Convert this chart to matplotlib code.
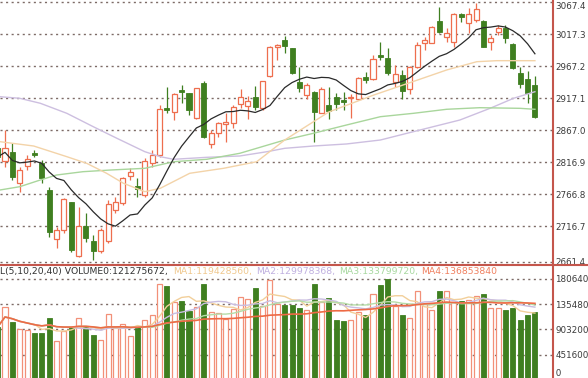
import numpy as np
import pandas as pd
import matplotlib
matplotlib.use('Agg')
import matplotlib.pyplot as plt
from matplotlib.lines import Line2D

# candle index, -1 is the half-cut candle on the left edge
days = np.arange(-1, 73)

opens = [2839.3, 2818.9, 2833.5, 2784.0, 2811.6, 2831.9, 2815.3, 2773.5, 2696.3, 2710.9,
         2754.3, 2670.2, 2717.2, 2694.2, 2678.5, 2694.2, 2742.2, 2752.7, 2795.5, 2779.8,
         2765.7, 2815.3, 2828.3, 2901.4, 2896.1, 2930.1, 2924.9, 2885.8, 2941.5, 2845.6,
         2862.3, 2876.9, 2878.9, 2908.2, 2905.0, 2918.7, 2901.4, 2952.0, 2997.9, 3008.4,
         2995.4, 2943.1, 2922.3, 2927.4, 2894.6, 2906.6, 2919.6, 2914.4, 2917.1, 2915.5,
         2950.0, 2946.8, 2984.9, 2979.7, 2943.1, 2953.6, 2931.2, 2966.6, 3003.2, 3004.1,
         3038.1, 3012.6, 3005.7, 3048.6, 3035.5, 3039.7, 3038.1, 3005.7, 3020.4, 3027.6,
         3002.1, 2957.2, 2946.8, 2937.9]
highs = [2844.0, 2867.5, 2846.6, 2810.0, 2828.3, 2836.2, 2820.5, 2778.7, 2716.1, 2760.5,
         2755.2, 2747.4, 2737.1, 2703.1, 2713.6, 2757.9, 2763.0, 2794.4, 2807.5, 2791.9,
         2823.6, 2836.2, 2906.6, 2934.3, 2924.9, 2937.9, 2925.9, 2933.7, 2944.2, 2867.5,
         2880.5, 2893.6, 2906.6, 2931.2, 2920.7, 2936.4, 2944.2, 2999.0, 3002.1, 3014.6,
         2996.3, 2966.6, 2940.6, 2929.0, 2934.3, 2935.3, 2924.9, 2927.4, 2923.4, 2950.0,
         2958.7, 2984.9, 3005.7, 2995.4, 2969.2, 2961.4, 2967.7, 3005.7, 3013.5, 3030.3,
         3059.6, 3026.7, 3051.1, 3051.1, 3058.0, 3066.8, 3039.7, 3016.2, 3031.9, 3031.9,
         3003.2, 2966.6, 2960.3, 2952.0]
lows = [2820.5, 2810.0, 2789.2, 2770.9, 2804.8, 2825.7, 2784.0, 2700.4, 2682.3, 2705.7,
        2676.9, 2669.1, 2692.6, 2663.9, 2674.4, 2690.1, 2737.1, 2750.0, 2789.2, 2763.0,
        2763.0, 2810.0, 2825.7, 2893.6, 2883.1, 2909.3, 2891.0, 2884.7, 2854.5, 2838.8,
        2857.0, 2849.2, 2870.1, 2901.4, 2884.2, 2898.8, 2898.8, 2950.9, 2977.1, 2987.6,
        2955.1, 2927.4, 2915.5, 2849.2, 2893.6, 2884.2, 2898.8, 2898.8, 2885.8, 2914.4,
        2941.5, 2945.8, 2977.1, 2953.6, 2935.3, 2915.5, 2923.8, 2964.1, 2992.7, 3003.2,
        3018.9, 3005.7, 2997.9, 3037.0, 3018.9, 3037.0, 2996.9, 2992.7, 3016.2, 3003.2,
        2963.0, 2932.8, 2909.3, 2885.8]
closes = [2825.2, 2839.8, 2794.4, 2804.8, 2821.6, 2828.3, 2791.9, 2708.3, 2710.9, 2759.0,
          2679.6, 2717.2, 2697.9, 2678.5, 2710.9, 2751.6, 2755.2, 2791.9, 2802.2, 2775.6,
          2819.4, 2828.3, 2899.9, 2898.8, 2923.4, 2927.4, 2898.8, 2932.8, 2857.0, 2863.2,
          2877.9, 2880.5, 2904.0, 2918.7, 2913.3, 2903.0, 2944.2, 2996.9, 3000.5, 2999.0,
          2957.2, 2932.8, 2937.9, 2896.1, 2931.2, 2897.7, 2908.2, 2911.8, 2919.6, 2948.4,
          2945.8, 2978.2, 2982.2, 2957.2, 2955.1, 2929.0, 2966.6, 3000.5, 3008.4, 3029.2,
          3021.4, 3019.8, 3049.1, 3043.9, 3049.1, 3056.4, 2997.9, 3011.0, 3026.7, 3011.0,
          2964.1, 2939.5, 2924.9, 2887.4]
# volume in millions
volumes = [94.5, 130.2, 102.9, 90.9, 89.7, 83.3, 84.3, 110.0, 70.1, 87.9,
           94.0, 110.5, 96.3, 80.2, 70.8, 118.2, 94.5, 99.3, 78.4, 95.0,
           106.4, 116.4, 171.7, 167.6, 139.1, 141.4, 123.9, 129.3, 171.7, 121.2,
           119.5, 108.8, 126.6, 148.0, 143.9, 164.0, 131.4, 178.8, 136.0, 134.3,
           134.3, 128.4, 125.3, 171.7, 139.6, 146.2, 107.5, 104.7, 107.0, 121.2,
           116.4, 153.3, 168.8, 180.1, 132.5, 116.4, 110.5, 158.1, 135.5, 124.3,
           159.2, 158.1, 139.1, 140.3, 143.2, 149.2, 153.3, 128.4, 128.4, 124.3,
           128.4, 106.4, 116.4, 121.3]

# slow price averages (candle index, price)
ma30_x = [-0.7, 3.9, 8.4, 11.1, 13.8, 16.1, 19.0, 21.1, 25.1, 29.7, 34.2, 38.0, 44.0, 50.0, 55.4, 60.0, 64.1, 66.8, 72.0]
ma30_y = [2849.2, 2842.4, 2825.7, 2815.3, 2799.7, 2784.0, 2770.9, 2776.2, 2799.7, 2807.5, 2817.8, 2851.8,
          2895.7, 2921.8, 2943.1, 2961.4, 2974.4, 2976.0, 2976.0]
ma60_x = [-0.7, 2.0, 4.8, 7.0, 10.6, 14.3, 19.0, 22.9, 27.4, 31.9, 38.0, 41.9, 46.4, 51.0, 55.5, 60.0, 64.5, 70.0, 72.0]
ma60_y = [2773.5, 2778.7, 2789.2, 2797.0, 2802.2, 2804.8, 2807.5, 2817.8, 2821.6, 2831.0, 2851.8, 2862.3,
          2875.3, 2888.3, 2893.6, 2899.9, 2902.4, 2901.4, 2899.9]
ma120_x = [-0.7, 2.0, 4.8, 8.4, 12.0, 15.2, 19.0, 21.1, 22.9, 27.4, 31.9, 35.6, 38.0, 41.9, 46.4, 51.0,
           56.4, 61.8, 65.9, 69.1, 72.0]
ma120_y = [2919.6, 2917.1, 2909.3, 2893.6, 2872.6, 2854.5, 2833.5, 2825.7, 2821.6, 2824.7, 2826.8, 2833.5,
           2838.8, 2842.4, 2845.6, 2851.8, 2867.5, 2883.1, 2901.4, 2917.1, 2927.4]

price_ticks = [3067.4, 3017.3, 2967.2, 2917.1, 2867.0, 2816.9, 2766.8, 2716.7, 2661.4]
price_labels = ['3067.4', '3017.3', '2967.2', '2917.1', '2867.0', '2816.9', '2766.8', '2716.7', '2661.4']
vol_ticks = [180.64, 135.48, 90.32, 45.16]
vol_labels = ['180640', '135480', '903200', '451600']

vol_legend = ['L(5,10,20,40) VOLUME0:121275672,', 'MA1:119428560,', 'MA2:129978368,',
              'MA3:133799720,', 'MA4:136853840']

UP = '#ee6e4e'
UP_VOL = '#f29078'
DOWN = '#3f7f20'
AXIS_RED = '#c4564c'
GRID = '#7d6b66'

W, H = 588, 378
fig = plt.figure(figsize=(W / 100, H / 100), dpi=100)
fig.patch.set_facecolor('white')

split = 265.3      # pixel row of the panel separator
right = 553.3      # pixel column of the axis line
ax = fig.add_axes([0, 1 - split / H, right / W, split / H])
axv = fig.add_axes([0, 0, right / W, 1 - split / H])

o = np.array(opens); c = np.array(closes)
hi = np.array(highs); lo = np.array(lows)
v = np.array(volumes)
up = c >= o
bw = 0.68

# price panel
ax.vlines(days[up], lo[up], hi[up], color=UP, lw=0.9, zorder=2)
ax.vlines(days[~up], lo[~up], hi[~up], color=DOWN, lw=0.9, zorder=2)
body = np.maximum(np.abs(c - o), 1.3)
ax.bar(days[up], body[up], bottom=np.minimum(o, c)[up], width=bw,
       facecolor='white', edgecolor=UP, linewidth=0.9, zorder=3)
ax.bar(days[~up], body[~up], bottom=np.minimum(o, c)[~up], width=bw,
       facecolor=DOWN, edgecolor=DOWN, linewidth=0.6, zorder=3)

ma10 = pd.Series(closes).rolling(10, min_periods=1).mean()
ax.plot(ma120_x, ma120_y, color='#cdbfe0', lw=1.0, zorder=4)
ax.plot(ma60_x, ma60_y, color='#a9d69c', lw=1.0, zorder=4)
ax.plot(ma30_x, ma30_y, color='#f3d3a8', lw=1.0, zorder=4)
ax.plot(days, ma10, color='#2a2a2a', lw=0.9, zorder=4)

ax.set_xlim(-5 / 7.36, (right - 5) / 7.36)
ax.set_ylim(3071.0 - 1.5656 * split, 3071.0)
ax.set_yticks(price_ticks)
ax.set_yticklabels(price_labels)

# volume panel
axv.bar(days[up], v[up], width=bw, facecolor='white', edgecolor=UP_VOL, linewidth=0.9, zorder=3)
axv.bar(days[~up], v[~up], width=bw, facecolor=DOWN, edgecolor=DOWN, linewidth=0.6, zorder=3)
vs = pd.Series(volumes)
vol_ma_colors = ['#f2cf9a', '#c9bde0', '#b5dca8', '#ee6a45']
for n, col in zip([5, 10, 20, 40], vol_ma_colors):
    axv.plot(days, vs.rolling(n, min_periods=1).mean(), color=col,
             lw=1.2 if n == 40 else 1.0, zorder=4)
axv.set_xlim(ax.get_xlim())
axv.set_ylim((380 - 378) * 1.7829, (380 - split) * 1.7829)
axv.set_yticks(vol_ticks)
axv.set_yticklabels(vol_labels)

for a in (ax, axv):
    a.set_facecolor('white')
    a.yaxis.tick_right()
    a.tick_params(axis='y', length=0, pad=1.5, labelsize=6.3, labelcolor='#3a3a3a')
    a.set_xticks([])
    a.grid(axis='y', color=GRID, linestyle=(0, (1.5, 2.5)), lw=1.0)
    a.set_axisbelow(True)
    for s in ('left', 'top', 'bottom'):
        a.spines[s].set_visible(False)
    a.spines['right'].set_color(AXIS_RED)
    a.spines['right'].set_linewidth(1.5)

# keep the top price label inside the picture
ax.get_yticklabels()[0].set_va('top')

axv.text(1.0, 0.0, ' 0', transform=axv.transAxes, fontsize=6.3,
         color='#3a3a3a', va='bottom', ha='left', clip_on=False)

# separator line across the whole width
fig.add_artist(Line2D([0, 1], [1 - split / H, 1 - split / H], transform=fig.transFigure,
                      color=AXIS_RED, lw=1.5))

# volume legend
leg_x = [0.5, 173, 256, 339, 421]
leg_colors = ['#333333', '#f0c88e', '#c0b0e0', '#a8d8a0', '#f08060']
for txt, px, col in zip(vol_legend, leg_x, leg_colors):
    fig.text(px / W, (H - 271.5) / H, txt, fontsize=6.7, color=col, va='center', ha='left')

fig.savefig('out.png', dpi=100)
